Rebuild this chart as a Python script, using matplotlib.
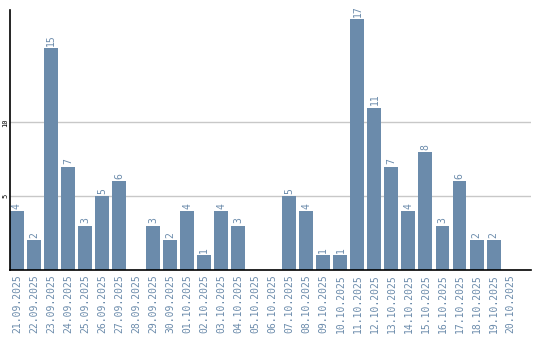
import matplotlib
matplotlib.use('Agg')
import matplotlib.pyplot as plt

dates = ['21.09.2025', '22.09.2025', '23.09.2025', '24.09.2025', '25.09.2025',
         '26.09.2025', '27.09.2025', '28.09.2025', '29.09.2025', '30.09.2025',
         '01.10.2025', '02.10.2025', '03.10.2025', '04.10.2025', '05.10.2025',
         '06.10.2025', '07.10.2025', '08.10.2025', '09.10.2025', '10.10.2025',
         '11.10.2025', '12.10.2025', '13.10.2025', '14.10.2025', '15.10.2025',
         '16.10.2025', '17.10.2025', '18.10.2025', '19.10.2025', '20.10.2025']
counts = [4, 2, 15, 7, 3, 5, 6, 0, 3, 2,
          4, 1, 4, 3, 0, 0, 5, 4, 1, 1,
          17, 11, 7, 4, 8, 3, 6, 2, 2, 0]

color = '#6b8bab'
mono = 'DejaVu Sans Mono'

fig = plt.figure(figsize=(5.4, 3.4), dpi=100)
ax = fig.add_axes([10 / 540, 1 - 270 / 340, 521 / 540, 260 / 340])

x = range(len(dates))
ax.bar(x, counts, width=0.82, color=color, zorder=2)
for i, v in enumerate(counts):
    if v > 0:
        ax.text(i, v + 0.15, str(v), rotation=90, ha='center', va='bottom',
                fontsize=7, family=mono, color=color)

ax.set_xlim(-0.41, 30.2)
ax.set_ylim(0, 17.6)
ax.set_xticks(list(x))
ax.set_xticklabels(dates, rotation=90, fontsize=7, family=mono, color=color)
ax.set_yticks([5, 10])
ax.set_yticklabels(['5', '10'], rotation=90, fontsize=5, family=mono, va='center')
ax.tick_params(axis='x', length=0, pad=3)
ax.tick_params(axis='y', length=0, pad=1)
ax.grid(True, axis='y', color='#c8c8c8', linewidth=1, zorder=0)
ax.spines['top'].set_visible(False)
ax.spines['right'].set_visible(False)
ax.spines['left'].set_linewidth(1.2)
ax.spines['bottom'].set_linewidth(1.2)

fig.savefig('out.png', dpi=100)
